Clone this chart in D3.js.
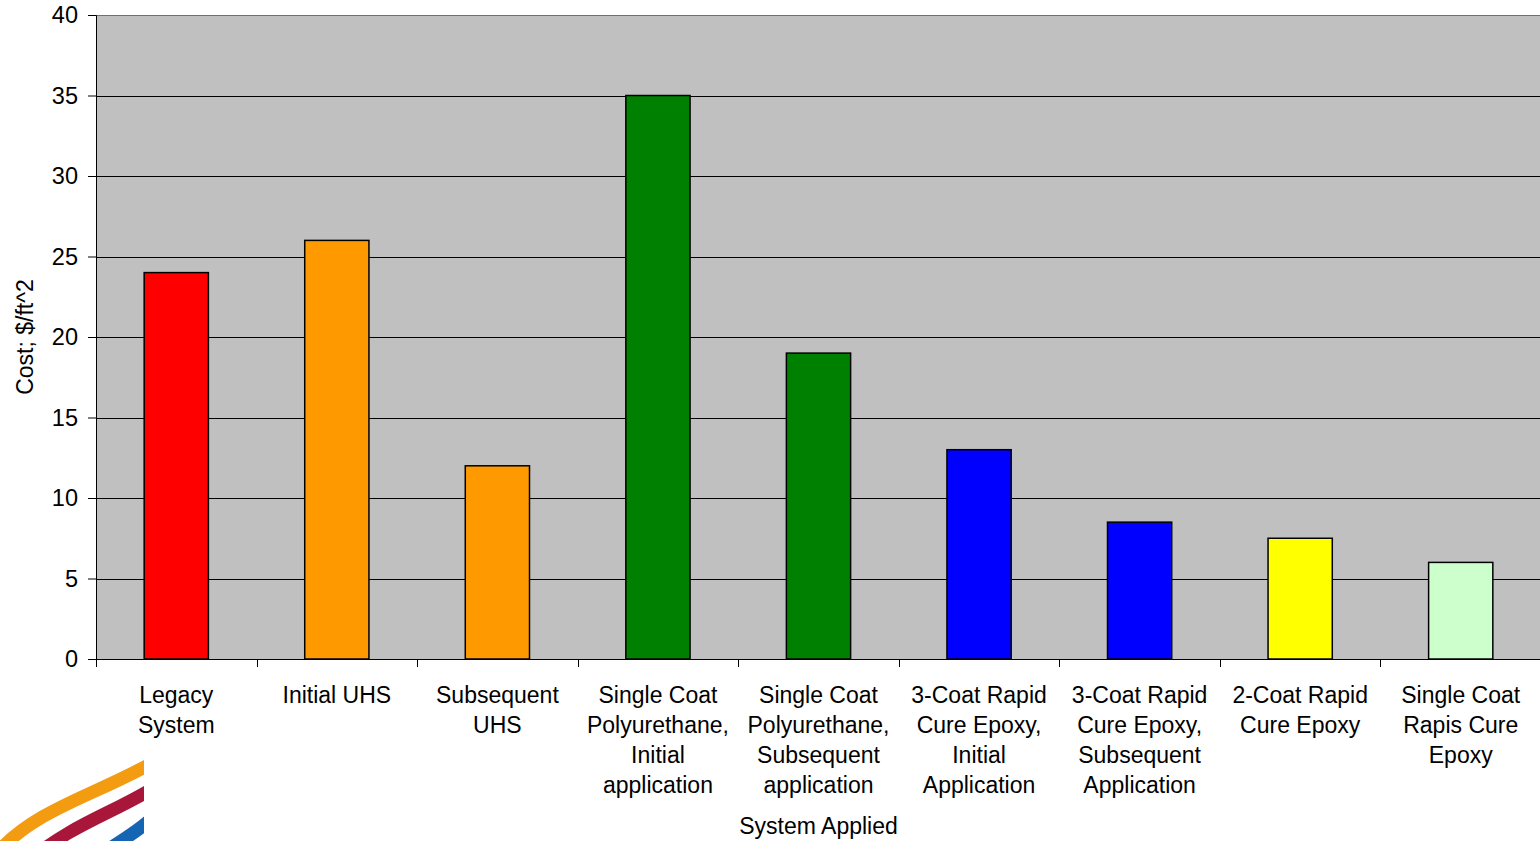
<!DOCTYPE html>
<html>
<head>
<meta charset="utf-8">
<script src="https://cdn.jsdelivr.net/npm/d3@7"></script>
<style>
  body { margin: 0; background: #fff; }
  svg { display: block; font-family: "Liberation Sans", Arial, sans-serif; }
</style>
</head>
<body>
<script>
// Data
const categories = [
  ["Legacy", "System"],
  ["Initial UHS"],
  ["Subsequent", "UHS"],
  ["Single Coat", "Polyurethane,", "Initial", "application"],
  ["Single Coat", "Polyurethane,", "Subsequent", "application"],
  ["3-Coat Rapid", "Cure Epoxy,", "Initial", "Application"],
  ["3-Coat Rapid", "Cure Epoxy,", "Subsequent", "Application"],
  ["2-Coat Rapid", "Cure Epoxy"],
  ["Single Coat", "Rapis Cure", "Epoxy"]
];
const costs = [24, 26, 12, 35, 19, 13, 8.5, 7.5, 6];
const barColors = ["#ff0000", "#ff9900", "#ff9900", "#008000", "#008000", "#0000ff", "#0000ff", "#ffff00", "#ccffcc"];
const yTicks = [0, 5, 10, 15, 20, 25, 30, 35, 40];

const W = 1540, H = 841;
const margin = { top: 15, right: -1, bottom: 182, left: 96 };
const width = W - margin.left - margin.right;
const height = H - margin.top - margin.bottom;

const svg = d3.select("body").append("svg")
  .attr("width", W)
  .attr("height", H);

const g = svg.append("g")
  .attr("transform", "translate(" + margin.left + "," + margin.top + ")");

const keys = categories.map((d, i) => i);

// one band per category, bar takes 40% of it
const xScale = d3.scaleBand()
  .domain(keys)
  .range([0, width])
  .paddingInner(0.6)
  .paddingOuter(0.3);

const yScale = d3.scaleLinear().domain([0, 40]).range([height, 0]);

// plot background
g.append("rect")
  .attr("width", width)
  .attr("height", height)
  .attr("fill", "#c0c0c0");

// gridlines
g.append("g")
  .selectAll("line")
  .data(yTicks.filter(d => d > 0))
  .enter()
  .append("line")
  .attr("x1", 0)
  .attr("x2", width)
  .attr("y1", d => Math.round(yScale(d)) + 0.5)
  .attr("y2", d => Math.round(yScale(d)) + 0.5)
  .attr("stroke", d => d === 40 ? "#707070" : "#000")
  .attr("stroke-width", 1);

// bars
g.selectAll(".bar")
  .data(costs)
  .enter()
  .append("rect")
  .attr("class", "bar")
  .attr("x", (d, i) => xScale(i))
  .attr("y", d => yScale(d))
  .attr("width", xScale.bandwidth())
  .attr("height", d => height - yScale(d))
  .attr("fill", (d, i) => barColors[i])
  .attr("stroke", "#000")
  .attr("stroke-width", 1.5);

// Y axis
const yAxis = g.append("g")
  .call(d3.axisLeft(yScale).tickValues(yTicks).tickSize(8).tickPadding(10));
yAxis.select(".domain").attr("stroke", "#000");
yAxis.selectAll(".tick line").attr("stroke", "#000");
yAxis.selectAll(".tick text")
  .attr("font-size", 23.5)
  .attr("fill", "#000")
  .style("font-family", "'Liberation Sans', Arial, sans-serif");

// X axis line
g.append("line")
  .attr("x1", 0).attr("x2", width)
  .attr("y1", height + 0.5).attr("y2", height + 0.5)
  .attr("stroke", "#000");

// X ticks sit between categories
const step = xScale.step();
g.append("g")
  .selectAll("line")
  .data(d3.range(categories.length + 1))
  .enter()
  .append("line")
  .attr("x1", i => Math.round(i * step) + 0.5)
  .attr("x2", i => Math.round(i * step) + 0.5)
  .attr("y1", height)
  .attr("y2", height + 8)
  .attr("stroke", "#000");

// category labels
const labels = g.append("g")
  .selectAll("text")
  .data(categories)
  .enter()
  .append("text")
  .attr("text-anchor", "middle")
  .attr("font-size", 23)
  .attr("fill", "#000")
  .attr("transform", (d, i) => "translate(" + (i + 0.5) * step + "," + (height + 44) + ")");

labels.selectAll("tspan")
  .data(d => d)
  .enter()
  .append("tspan")
  .attr("x", 0)
  .attr("y", (d, j) => j * 30)
  .text(d => d);

// axis titles
g.append("text")
  .attr("x", width / 2)
  .attr("y", height + 175)
  .attr("text-anchor", "middle")
  .attr("font-size", 23)
  .text("System Applied");

svg.append("text")
  .attr("transform", "translate(33," + (margin.top + height / 2) + ") rotate(-90)")
  .attr("text-anchor", "middle")
  .attr("font-size", 23)
  .text("Cost; $/ft^2");

// logo swooshes, bottom left
svg.append("clipPath")
  .attr("id", "logo-clip")
  .append("rect")
  .attr("x", 0).attr("y", 740)
  .attr("width", 144).attr("height", 101);

const logo = svg.append("g").attr("clip-path", "url(#logo-clip)");
const swooshes = [
  { d: "M -2,852 C 35,810 95,795 150,764", c: "#f39c12" },
  { d: "M 30,860 C 70,826 110,814 150,790", c: "#a8163a" },
  { d: "M 85,866 C 110,846 130,838 150,820", c: "#1565b4" }
];
logo.selectAll("path")
  .data(swooshes)
  .enter()
  .append("path")
  .attr("d", d => d.d)
  .attr("fill", "none")
  .attr("stroke", d => d.c)
  .attr("stroke-width", 13);
</script>
</body>
</html>
